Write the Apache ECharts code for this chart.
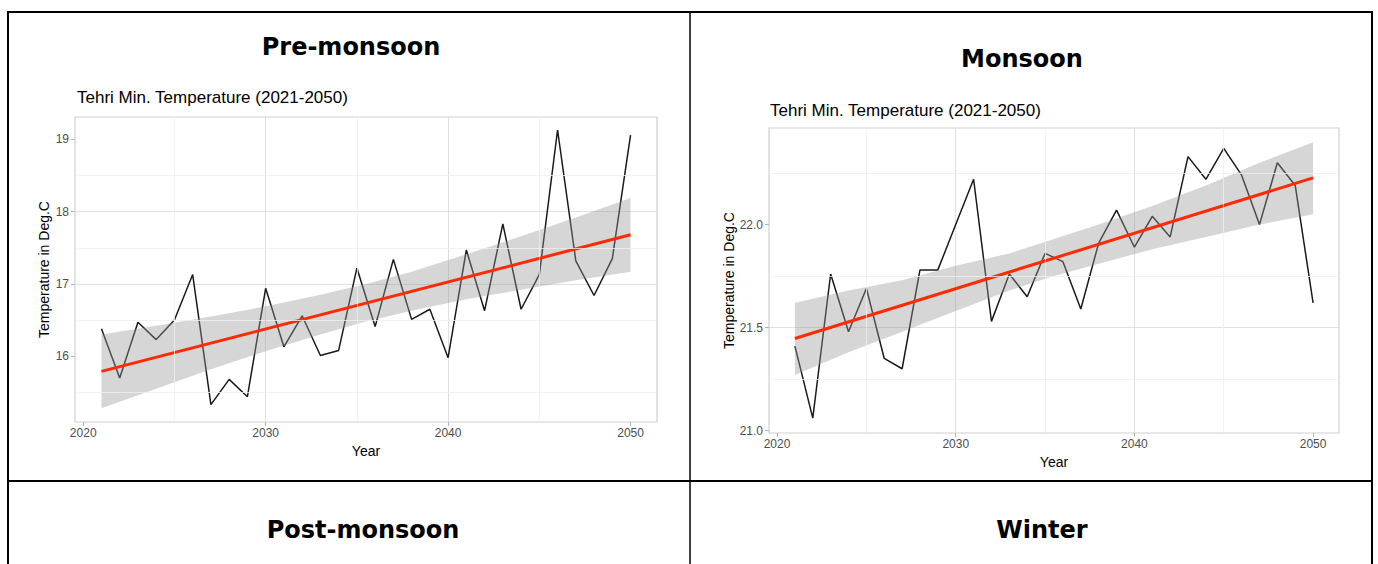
<!DOCTYPE html>
<html>
<head>
<meta charset="UTF-8"/>
<title>Tehri Min. Temperature (2021-2050)</title>
<script src="https://cdn.jsdelivr.net/npm/echarts@6/dist/echarts.min.js"></script>
<style>
  body { margin: 0; background: #fff; }
  #main { width: 1378px; height: 564px; }
</style>
</head>
<body>
<div id="main"></div>
<script>
// yearly values
var years = [2021, 2022, 2023, 2024, 2025, 2026, 2027, 2028, 2029, 2030,
             2031, 2032, 2033, 2034, 2035, 2036, 2037, 2038, 2039, 2040,
             2041, 2042, 2043, 2044, 2045, 2046, 2047, 2048, 2049, 2050];
var preMonsoon = [16.38, 15.70, 16.47, 16.23, 16.50, 17.13, 15.33, 15.68, 15.44, 16.94,
                  16.13, 16.56, 16.01, 16.08, 17.22, 16.41, 17.34, 16.51, 16.65, 15.98,
                  17.47, 16.63, 17.83, 16.65, 17.13, 19.13, 17.32, 16.84, 17.35, 19.06];
var monsoon = [21.41, 21.06, 21.76, 21.48, 21.69, 21.35, 21.30, 21.78, 21.78, 22.00,
               22.22, 21.53, 21.76, 21.65, 21.86, 21.82, 21.59, 21.91, 22.07, 21.89,
               22.04, 21.94, 22.33, 22.22, 22.37, 22.24, 22.00, 22.30, 22.19, 21.62];

// red trend line ends
var trendYears = [2021, 2050];
var preTrend = [15.79, 17.68];
var monTrend = [21.447, 22.227];

// grey band edges
var bandYears = [2021, 2024, 2027, 2030, 2033, 2035.5, 2038, 2041, 2044, 2047, 2050];
var preUpper = [16.30, 16.42, 16.55, 16.69, 16.85, 17.00, 17.17, 17.41, 17.66, 17.92, 18.19];
var preLower = [15.28, 15.55, 15.82, 16.07, 16.30, 16.48, 16.63, 16.79, 16.92, 17.05, 17.17];
var monUpper = [21.62, 21.68, 21.73, 21.80, 21.86, 21.93, 22.00, 22.09, 22.19, 22.30, 22.40];
var monLower = [21.27, 21.38, 21.48, 21.58, 21.68, 21.75, 21.81, 21.88, 21.94, 22.00, 22.05];

// ticks
var xTicks = [2020, 2030, 2040, 2050];
var xMinor = [2025, 2035, 2045];
var preTicks = [16, 17, 18, 19];
var preMinor = [15.5, 16.5, 17.5, 18.5];
var monTicks = [21.0, 21.5, 22.0];
var monMinor = [21.25, 21.75, 22.25];

var headers = ["Pre-monsoon", "Monsoon", "Post-monsoon", "Winter"];
var plotTitle = "Tehri Min. Temperature (2021-2050)";

var FONT = "Liberation Sans";
var TICK_GREY = "#4d4d4d";

function pair(xs, ys) {
  return xs.map(function (x, i) { return [x, ys[i]]; });
}

function inList(v, list) {
  for (var i = 0; i < list.length; i++) {
    if (Math.abs(list[i] - v) < 1e-6) return true;
  }
  return false;
}

function makeX(g) {
  return {
    type: "value", gridIndex: g, min: 2019.55, max: 2051.45, splitNumber: 3,
    name: "Year", nameLocation: "middle", nameGap: 20,
    nameTextStyle: { fontFamily: FONT, fontSize: 14, color: "#000" },
    axisLine: { show: false },
    axisTick: { show: true, length: 4, customValues: xTicks, lineStyle: { color: "#b3b3b3" } },
    axisLabel: {
      margin: 5, color: TICK_GREY, fontFamily: FONT, fontSize: 12, customValues: xTicks,
      formatter: function (v) { return inList(v, xTicks) ? String(v) : ""; }
    },
    splitLine: { show: true, showMinLine: false, showMaxLine: false, lineStyle: { color: "#e0e0e0", width: 1 } }
  };
}

function makeY(g, min, max, split, ticks, dec, gap) {
  return {
    type: "value", gridIndex: g, min: min, max: max, splitNumber: split,
    name: "Temperature in Deg.C", nameLocation: "middle", nameGap: gap,
    nameTextStyle: { fontFamily: FONT, fontSize: 14, color: "#000" },
    axisLine: { show: false },
    axisTick: { show: true, length: 4, customValues: ticks, lineStyle: { color: "#b3b3b3" } },
    axisLabel: {
      margin: 6, color: TICK_GREY, fontFamily: FONT, fontSize: 12, customValues: ticks,
      formatter: function (v) { return inList(v, ticks) ? v.toFixed(dec) : ""; }
    },
    splitLine: { show: true, showMinLine: false, showMaxLine: false, lineStyle: { color: "#e0e0e0", width: 1 } }
  };
}

function minorGrid(g, yMinor) {
  var lines = xMinor.map(function (v) { return { xAxis: v }; })
    .concat(yMinor.map(function (v) { return { yAxis: v }; }));
  return {
    type: "line", xAxisIndex: g, yAxisIndex: g, data: [], z: 1, silent: true,
    markLine: {
      silent: true, animation: false, symbol: ["none", "none"],
      label: { show: false },
      lineStyle: { color: "#efefef", width: 0.8, type: "solid" },
      data: lines
    }
  };
}

function dataLine(g, vals) {
  return {
    type: "line", xAxisIndex: g, yAxisIndex: g, data: pair(years, vals),
    symbol: "none", z: 2, silent: true,
    lineStyle: { color: "#1a1a1a", width: 1.5 }
  };
}

function ribbon(g, lo, hi) {
  return {
    type: "custom", xAxisIndex: g, yAxisIndex: g, z: 3, silent: true,
    data: bandYears.map(function (x, i) { return [x, lo[i], hi[i]]; }),
    encode: { x: 0, y: [1, 2] },
    renderItem: function (params, api) {
      if (params.dataIndex !== 0) return null;
      var pts = [];
      for (var i = 0; i < bandYears.length; i++) pts.push(api.coord([bandYears[i], hi[i]]));
      for (var j = bandYears.length - 1; j >= 0; j--) pts.push(api.coord([bandYears[j], lo[j]]));
      return { type: "polygon", shape: { points: pts }, style: { fill: "rgba(153,153,153,0.4)" } };
    }
  };
}

function trendLine(g, vals) {
  return {
    type: "line", xAxisIndex: g, yAxisIndex: g, data: pair(trendYears, vals),
    symbol: "none", z: 4, silent: true,
    lineStyle: { color: "#ff2a00", width: 3 }
  };
}

function hline(x1, y, x2, w) {
  return { type: "line", silent: true, shape: { x1: x1, y1: y, x2: x2, y2: y }, style: { stroke: "#000", lineWidth: w } };
}
function vline(x, y1, y2, w) {
  return { type: "line", silent: true, shape: { x1: x, y1: y1, x2: x, y2: y2 }, style: { stroke: "#000", lineWidth: w } };
}
function label(txt, x, y, font, align) {
  return {
    type: "text", silent: true, x: x, y: y,
    style: { text: txt, font: font, fill: "#000", align: align, verticalAlign: "middle" }
  };
}

var chart = echarts.init(document.getElementById("main"), null, { renderer: "svg" });

var headFont = 'bold 24px "DejaVu Sans"';
var titleFont = '17px "' + FONT + '"';

var option = {
  animation: false,
  backgroundColor: "#fff",
  grid: [
    { left: 75, top: 117, width: 582, height: 305, show: true, borderColor: "#cfcfcf", borderWidth: 1.2 },
    { left: 769, top: 128, width: 570, height: 305, show: true, borderColor: "#cfcfcf", borderWidth: 1.2 }
  ],
  xAxis: [makeX(0), makeX(1)],
  yAxis: [
    makeY(0, 15.09, 19.31, 4, preTicks, 0, 24),
    makeY(1, 20.988, 22.469, 3, monTicks, 1, 33)
  ],
  series: [
    minorGrid(0, preMinor), dataLine(0, preMonsoon), ribbon(0, preLower, preUpper), trendLine(0, preTrend),
    minorGrid(1, monMinor), dataLine(1, monsoon), ribbon(1, monLower, monUpper), trendLine(1, monTrend)
  ],
  graphic: [
    hline(7, 12, 1373, 2),
    hline(7, 481, 1373, 2),
    vline(8, 12, 564, 2),
    vline(690, 12, 564, 1.5),
    vline(1372, 12, 564, 2),
    label(headers[0], 351, 46.5, headFont, "center"),
    label(headers[1], 1022, 59, headFont, "center"),
    label(headers[2], 363, 529.5, headFont, "center"),
    label(headers[3], 1042, 529.5, headFont, "center"),
    label(plotTitle, 77, 97.4, titleFont, "left"),
    label(plotTitle, 770, 110.8, titleFont, "left")
  ]
};

chart.setOption(option);
</script>
</body>
</html>
